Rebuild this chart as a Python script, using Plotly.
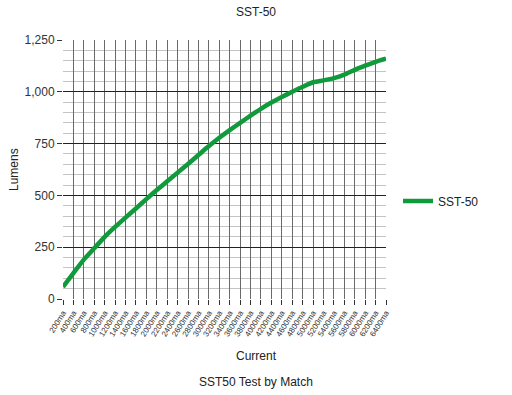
import plotly.graph_objects as go

categories = [f"{v}ma" for v in range(200, 6401, 200)]
lumens = [58, 125, 190, 245, 300, 348, 393, 437, 482, 526, 568, 610, 652, 695, 738, 778,
          815, 850, 885, 918, 948, 975, 1000, 1024, 1046, 1055, 1066, 1083, 1106, 1126, 1145, 1160]
y_ticks = [0, 250, 500, 750, 1000, 1250]
y_labels = ["0", "250", "500", "750", "1,000", "1,250"]

FONT = "Liberation Sans, Arial, sans-serif"
GREEN = "#109a3c"

fig = go.Figure()
fig.add_trace(go.Scatter(
    x=categories, y=lumens, mode="lines", name="SST-50",
    line=dict(color=GREEN, width=4.5, shape="spline", smoothing=0.6),
))

fig.update_layout(
    width=512, height=395,
    margin=dict(l=63, r=126, t=40, b=96),
    paper_bgcolor="white", plot_bgcolor="white",
    font=dict(family=FONT, size=12, color="#222"),
    title=dict(text="SST-50", x=0.5, xref="container", xanchor="center",
               y=1 - 12 / 395, yref="container", yanchor="middle",
               font=dict(family=FONT, size=12, color="#222")),
    showlegend=True,
    legend=dict(x=(398 - 63) / 323, xanchor="left", y=(299 - 201) / 259, yanchor="middle",
                font=dict(family=FONT, size=12, color="#222"), bgcolor="rgba(0,0,0,0)",
                itemwidth=30),
    annotations=[
        dict(text="Lumens", xref="paper", yref="paper", x=(14 - 63) / 323, y=(299 - 170) / 259,
             textangle=-90, showarrow=False, xanchor="center", yanchor="middle",
             font=dict(family=FONT, size=12, color="#222")),
        dict(text="Current", xref="paper", yref="paper", x=(256 - 63) / 323, y=(299 - 356) / 259,
             showarrow=False, xanchor="center", yanchor="middle",
             font=dict(family=FONT, size=12, color="#222")),
        dict(text="SST50 Test by Match", xref="paper", yref="paper", x=(256 - 63) / 323,
             y=(299 - 382) / 259, showarrow=False, xanchor="center", yanchor="middle",
             font=dict(family=FONT, size=12, color="#222")),
    ],
)

fig.update_xaxes(
    type="category", range=[0, len(categories) - 1],
    tickmode="array", tickvals=categories, ticktext=categories,
    showgrid=True, gridcolor="#6a6a6a", gridwidth=1,
    ticks="outside", ticklen=5, tickcolor="#333", tickwidth=1,
    tickangle=-58, tickfont=dict(family=FONT, size=8, color="#333"),
    showline=False, zeroline=False, fixedrange=True,
)
fig.update_yaxes(
    range=[0, 1250], tickvals=y_ticks, ticktext=y_labels,
    showgrid=True, gridcolor="#222", gridwidth=1,
    minor=dict(dtick=50, tick0=0, showgrid=True, gridcolor="#c4c4c4", gridwidth=1),
    ticks="outside", ticklen=5, tickcolor="#333",
    tickfont=dict(family=FONT, size=12, color="#333"),
    showline=False, zeroline=False,
)

fig.write_html("out.html")
